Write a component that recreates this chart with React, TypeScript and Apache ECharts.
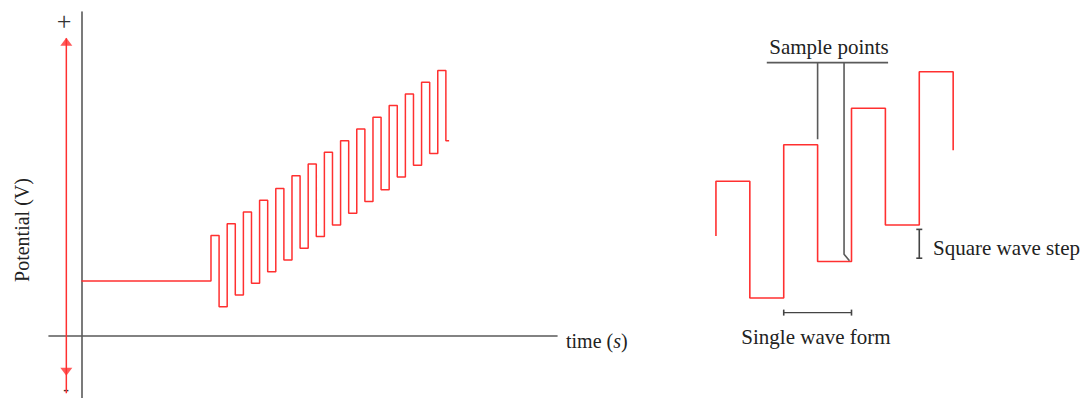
import React, { useEffect, useRef } from "react";
import * as echarts from "echarts";

// ---- Left diagram (square-wave voltammetry potential vs time) ----
const leftFlatLevel = 4.7;
const leftPulseStarts = [8, 9, 10, 11, 12, 13, 14, 15, 16, 17, 18, 19, 20, 21, 22];
const leftTopLevels = [8.6, 9.6, 10.6, 11.6, 12.6, 13.7, 14.7, 15.7, 16.7, 17.7, 18.7, 19.7, 20.7, 21.7, 22.7];
const leftBottomLevels = [2.5, 3.5, 4.5, 5.5, 6.5, 7.5, 8.5, 9.5, 10.5, 11.5, 12.5, 13.6, 14.6, 15.6, 16.7];
const leftEndTime = 22.7;
const leftHalfPeriod = 0.5;

// red double-headed potential arrow
const arrowX = -0.93;
const arrowSpan = [25.45, -4.9];
const arrowUpHead = 25.15;
const arrowDownHead = -3.05;

// ---- Right diagram (zoomed waveform) ----
const rightEdges = [0, 0.5, 1, 1.5, 2, 2.5, 3, 3.5];
const rightStartLevel = 1.7;
const rightLevels = [3.2, 0, 4.2, 1.0, 5.2, 2.0, 6.2, 4.05];

// annotations (right diagram units)
const sampleBar = [[0.75, 6.45], [2.54, 6.45]];
const sampleLine1 = [[1.5, 6.45], [1.5, 4.35]];
const sampleLine2 = [[1.89, 6.45], [1.89, 1.2], [1.97, 1.02]];
const stepMarker = [[3.0, 1.88], [3.0, 1.09]];
const waveFormMarker = [[1.0, -0.4], [2.0, -0.4]];

// labels
const yAxisLabel = "Potential (V)";
const samplePointsLabel = "Sample points";
const stepLabel = "Square wave step";
const waveFormLabel = "Single wave form";

const RED = "#ff3030";
const GRAY = "#5a5a5a";
const FONT = '"Liberation Serif", "DejaVu Serif", serif';

function buildLeftWave(): number[][] {
  const pts: number[][] = [[0, leftFlatLevel], [leftPulseStarts[0], leftFlatLevel]];
  leftPulseStarts.forEach((s, k) => {
    const next = k + 1 < leftPulseStarts.length ? leftPulseStarts[k + 1] : leftEndTime;
    pts.push([s, leftTopLevels[k]]);
    pts.push([s + leftHalfPeriod, leftTopLevels[k]]);
    pts.push([s + leftHalfPeriod, leftBottomLevels[k]]);
    pts.push([next, leftBottomLevels[k]]);
  });
  return pts;
}

function buildRightWave(): number[][] {
  const pts: number[][] = [[rightEdges[0], rightStartLevel]];
  let prev = rightStartLevel;
  rightEdges.forEach((e, i) => {
    if (i > 0) pts.push([e, prev]);
    pts.push([e, rightLevels[i]]);
    prev = rightLevels[i];
  });
  return pts;
}

export default function App() {
  const ref = useRef<HTMLDivElement>(null);
  useEffect(() => {
    if (!ref.current) return;
    const chart = echarts.init(ref.current, undefined, { renderer: "svg" });
    const hidden = {
      axisLabel: { show: false },
      axisTick: { show: false },
      splitLine: { show: false },
    };
    const plainLine = (data: number[][], color: string, width: number, xi: number) => ({
      type: "line",
      xAxisIndex: xi,
      yAxisIndex: xi,
      data,
      symbol: "none",
      lineStyle: { color, width },
      silent: true,
      z: 3,
    });
    chart.setOption({
      animation: false,
      backgroundColor: "#ffffff",
      grid: [
        { left: 49, top: 12, width: 508, height: 386 },
        { left: 699, top: 6, width: 305, height: 365 },
      ],
      xAxis: [
        {
          type: "value",
          gridIndex: 0,
          min: -2,
          max: 29.36,
          axisLine: { show: true, onZero: true, lineStyle: { color: GRAY, width: 1.6 } },
          ...hidden,
        },
        { type: "value", gridIndex: 1, min: -0.25, max: 4.25, axisLine: { show: false }, ...hidden },
      ],
      yAxis: [
        {
          type: "value",
          gridIndex: 0,
          min: -5.3,
          max: 27.7,
          axisLine: { show: true, onZero: true, lineStyle: { color: GRAY, width: 1.6 } },
          ...hidden,
        },
        { type: "value", gridIndex: 1, min: -2, max: 8, axisLine: { show: false }, ...hidden },
      ],
      series: [
        plainLine(buildLeftWave(), RED, 1.5, 0),
        plainLine([[arrowX, arrowSpan[0]], [arrowX, arrowSpan[1]]], RED, 1.5, 0),
        {
          type: "scatter",
          xAxisIndex: 0,
          yAxisIndex: 0,
          data: [[arrowX, arrowUpHead]],
          symbol: "triangle",
          symbolSize: [12, 8],
          itemStyle: { color: RED },
          silent: true,
          z: 4,
        },
        {
          type: "scatter",
          xAxisIndex: 0,
          yAxisIndex: 0,
          data: [[arrowX, arrowDownHead]],
          symbol: "triangle",
          symbolRotate: 180,
          symbolSize: [12, 8],
          itemStyle: { color: RED },
          silent: true,
          z: 4,
        },
        plainLine(buildRightWave(), RED, 1.6, 1),
        plainLine(sampleBar, GRAY, 1.6, 1),
        plainLine(sampleLine1, GRAY, 1.6, 1),
        plainLine(sampleLine2, GRAY, 1.6, 1),
        {
          ...plainLine(stepMarker, "#444", 1.6, 1),
          symbol: "rect",
          symbolSize: [6, 1.6],
          showSymbol: true,
          itemStyle: { color: "#444" },
        },
        {
          ...plainLine(waveFormMarker, "#444", 1.4, 1),
          symbol: "rect",
          symbolSize: [1.6, 6],
          showSymbol: true,
          itemStyle: { color: "#444" },
        },
      ],
      graphic: [
        {
          type: "text",
          x: 22,
          y: 230,
          rotation: Math.PI / 2,
          style: {
            text: yAxisLabel,
            font: `20px ${FONT}`,
            fill: "#222",
            textAlign: "center",
            textVerticalAlign: "middle",
          },
        },
        {
          type: "text",
          x: 64,
          y: 21,
          style: { text: "+", font: `26px ${FONT}`, fill: "#333", textAlign: "center", textVerticalAlign: "middle" },
        },
        {
          type: "text",
          x: 66,
          y: 389,
          style: { text: "-", font: `bold 17px ${FONT}`, fill: "#333", textAlign: "center", textVerticalAlign: "middle" },
        },
        {
          type: "text",
          x: 566,
          y: 341,
          style: {
            text: "{a|time (}{b|s}{a|)}",
            textVerticalAlign: "middle",
            rich: {
              a: { font: `20px ${FONT}`, fill: "#222" },
              b: { font: `italic 20px ${FONT}`, fill: "#222" },
            },
          },
        },
        {
          type: "text",
          x: 829,
          y: 47,
          style: {
            text: samplePointsLabel,
            font: `21px ${FONT}`,
            fill: "#222",
            textAlign: "center",
            textVerticalAlign: "middle",
          },
        },
        {
          type: "text",
          x: 933,
          y: 248,
          style: { text: stepLabel, font: `21px ${FONT}`, fill: "#222", textAlign: "left", textVerticalAlign: "middle" },
        },
        {
          type: "text",
          x: 816,
          y: 337,
          style: {
            text: waveFormLabel,
            font: `21px ${FONT}`,
            fill: "#222",
            textAlign: "center",
            textVerticalAlign: "middle",
          },
        },
      ],
    });
    return () => chart.dispose();
  }, []);
  return (
    <div
      ref={ref}
      style={{ position: "absolute", left: 0, top: 0, width: 1092, height: 398, background: "#fff" }}
    />
  );
}
